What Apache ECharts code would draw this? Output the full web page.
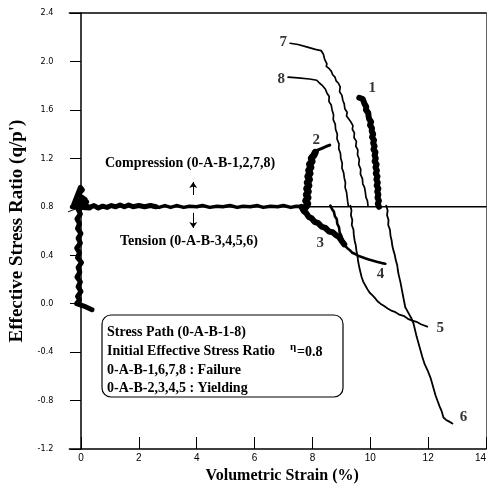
<!DOCTYPE html>
<html>
<head>
<meta charset="utf-8">
<script src="https://cdn.jsdelivr.net/npm/echarts@6/dist/echarts.min.js"></script>
<style>
html,body{margin:0;padding:0;background:#fff;}
#c{width:489px;height:495px;}
</style>
</head>
<body>
<div id="c"></div>
<script>
// ---- axis settings ----
const xMin = -0.4, xMax = 14;
const xTickValues = [0,2,4,6,8,10,12,14];
const yMin = -1.2, yMax = 2.4, yStep = 0.4;
const xTitle = 'Volumetric Strain (%)';
const yTitle = "Effective Stress Ratio (q/p')";

// ---- stress path 0-A ----
const leadIn = [[-0.66,0.74],[-0.2,0.78]];
const pathOA = [[0.38,-0.05],[0.1,-0.02],[-0.15,0.0],[-0.05,0.03],[-0.12,0.06],[0.0,0.1],[-0.1,0.14],[-0.02,0.18],[-0.14,0.22],[-0.04,0.26],[-0.1,0.3],[0.02,0.34],[-0.12,0.38],[-0.05,0.42],[-0.15,0.46],[-0.02,0.5],[-0.1,0.54],[0.0,0.58],[-0.12,0.62],[-0.05,0.66],[-0.14,0.7],[-0.02,0.74],[-0.1,0.78],[0.1,0.8],[-0.2,0.84],[0.15,0.86],[-0.1,0.9],[0.05,0.94],[-0.02,0.96],[-0.25,0.82],[0.3,0.79],[-0.3,0.8],[0.2,0.84],[0.0,0.8]];
// ---- path A-B (constant stress ratio 0.8) ----
const pathAB1 = [[0.0,0.80],[0.15,0.81],[0.3,0.795],[0.45,0.81],[0.6,0.79],[0.75,0.805],[0.9,0.795],[1.05,0.81],[1.2,0.80],[1.35,0.815],[1.5,0.80],[1.65,0.815],[1.8,0.80],[2.0,0.81],[2.2,0.80],[2.4,0.81],[2.6,0.80]];
const pathAB2 = [[2.5,0.80],[2.7,0.795],[2.9,0.81],[3.1,0.795],[3.3,0.81],[3.55,0.795],[3.75,0.805],[4.0,0.80],[4.2,0.81],[4.45,0.795],[4.7,0.805],[4.9,0.80],[5.15,0.81],[5.4,0.795],[5.6,0.805],[5.85,0.80],[6.1,0.81],[6.3,0.795],[6.55,0.805],[6.8,0.80],[7.0,0.81],[7.25,0.795],[7.45,0.805],[7.7,0.80]];
const refLine = [[0,0.8],[14,0.8]];

// ---- branches B-1 ... B-8 ----
const curve1 = [[9.62,1.70],[9.74,1.69],[9.72,1.675],[9.8,1.65],[9.86,1.625],[9.85,1.6],[9.93,1.575],[9.94,1.55],[9.96,1.525],[10.03,1.5],[9.99,1.475],[10.06,1.45],[10.05,1.425],[10.1,1.4],[10.06,1.375],[10.13,1.35],[10.1,1.325],[10.15,1.3],[10.11,1.275],[10.18,1.25],[10.15,1.225],[10.19,1.2],[10.15,1.175],[10.22,1.15],[10.18,1.125],[10.23,1.1],[10.19,1.075],[10.25,1.05],[10.21,1.025],[10.26,1.0],[10.22,0.975],[10.28,0.95],[10.24,0.925],[10.28,0.9],[10.25,0.875],[10.3,0.85],[10.26,0.825],[10.3,0.8]];
const curve2 = [[7.78,0.80],[7.84,0.825],[7.77,0.85],[7.85,0.875],[7.79,0.9],[7.86,0.925],[7.8,0.95],[7.88,0.975],[7.82,1.0],[7.9,1.025],[7.84,1.05],[7.92,1.075],[7.87,1.1],[7.95,1.125],[7.9,1.15],[7.99,1.175],[7.96,1.2],[8.05,1.225],[8.1,1.25]];
const curve2Tip = [[8.05,1.25],[8.2,1.27],[8.35,1.285],[8.5,1.3],[8.6,1.31]];
const curve3 = [[7.62,0.80],[7.7,0.765],[7.78,0.75],[7.88,0.715],[7.97,0.705],[8.08,0.675],[8.2,0.665],[8.32,0.635],[8.45,0.625],[8.58,0.595],[8.7,0.59],[8.82,0.565],[8.92,0.55],[9.02,0.515],[9.1,0.49]];
const curve4 = [[8.62,0.81],[8.68,0.78],[8.74,0.76],[8.78,0.72],[8.84,0.70],[8.86,0.66],[8.92,0.63],[8.94,0.59],[9.0,0.56],[9.05,0.52],[9.12,0.48],[9.2,0.46],[9.3,0.44],[9.38,0.42],[9.48,0.41],[9.58,0.395],[9.7,0.385],[9.82,0.375],[9.95,0.365],[10.1,0.355],[10.25,0.345],[10.4,0.335],[10.52,0.33]];
const curve5 = [[9.31,0.81],[9.35,0.77],[9.33,0.73],[9.38,0.69],[9.36,0.65],[9.42,0.61],[9.43,0.57],[9.46,0.52],[9.5,0.48],[9.52,0.44],[9.56,0.39],[9.58,0.35],[9.62,0.3],[9.66,0.26],[9.7,0.22],[9.76,0.18],[9.83,0.15],[9.9,0.12],[9.98,0.09],[10.07,0.07],[10.15,0.05],[10.25,0.02],[10.35,0.0],[10.48,-0.02],[10.6,-0.04],[10.75,-0.06],[10.87,-0.07],[11.0,-0.09],[11.15,-0.1],[11.3,-0.125],[11.45,-0.14],[11.6,-0.15],[11.75,-0.17],[11.97,-0.19]];
const curve6 = [[10.55,0.81],[10.6,0.77],[10.58,0.73],[10.63,0.69],[10.62,0.65],[10.68,0.61],[10.7,0.56],[10.74,0.52],[10.76,0.48],[10.8,0.44],[10.85,0.4],[10.88,0.36],[10.93,0.32],[10.95,0.28],[10.98,0.24],[11.04,0.18],[11.08,0.13],[11.12,0.08],[11.16,0.03],[11.21,-0.03],[11.28,-0.06],[11.35,-0.09],[11.42,-0.12],[11.49,-0.16],[11.55,-0.22],[11.6,-0.27],[11.66,-0.32],[11.73,-0.38],[11.8,-0.44],[11.88,-0.5],[11.98,-0.55],[12.08,-0.61],[12.14,-0.66],[12.2,-0.71],[12.26,-0.76],[12.32,-0.8],[12.4,-0.85],[12.47,-0.89],[12.53,-0.94],[12.62,-0.96],[12.7,-0.97],[12.84,-0.99]];
const curve7 = [[7.23,2.15],[7.5,2.14],[7.8,2.12],[8.1,2.1],[8.3,2.09],[8.38,2.06],[8.42,2.02],[8.5,1.98],[8.48,1.96],[8.58,1.94],[8.65,1.92],[8.7,1.89],[8.78,1.87],[8.82,1.84],[8.9,1.82],[8.96,1.79],[8.94,1.75],[9.02,1.72],[9.05,1.68],[9.1,1.65],[9.12,1.61],[9.2,1.58],[9.18,1.55],[9.27,1.52],[9.33,1.5],[9.4,1.47],[9.38,1.44],[9.45,1.41],[9.44,1.37],[9.52,1.34],[9.5,1.30],[9.57,1.27],[9.56,1.23],[9.62,1.19],[9.6,1.15],[9.67,1.11],[9.66,1.07],[9.73,1.03],[9.74,0.99],[9.8,0.96],[9.83,0.92],[9.85,0.88],[9.9,0.85],[9.92,0.81]];
const curve8 = [[7.16,1.87],[7.5,1.865],[7.9,1.855],[8.15,1.845],[8.25,1.82],[8.35,1.8],[8.45,1.77],[8.5,1.74],[8.58,1.71],[8.57,1.67],[8.65,1.64],[8.68,1.6],[8.73,1.56],[8.72,1.52],[8.79,1.48],[8.8,1.44],[8.86,1.40],[8.85,1.36],[8.92,1.32],[8.91,1.28],[8.97,1.24],[8.98,1.20],[9.03,1.16],[9.02,1.12],[9.08,1.08],[9.1,1.04],[9.14,1.00],[9.13,0.96],[9.18,0.92],[9.2,0.88],[9.22,0.84],[9.24,0.81]];

// ---- branch labels ----
const branchNames = ['1','2','3','4','5','6','7','8'];
const branchLabelX = [10.07,8.13,8.27,10.35,12.42,13.22,6.99,6.92];
const branchLabelY = [1.78,1.35,0.50,0.24,-0.20,-0.94,2.16,1.85];

// ---- arrows ----
const arrowUp = [[3.88,0.897],[3.88,1.005]];
const arrowDown = [[3.88,0.75],[3.88,0.625]];

const boxLines = ['Stress Path (0-A-B-1-8)','Initial Effective Stress Ratio','0-A-B-1,6,7,8 : Failure','0-A-B-2,3,4,5 : Yielding'];

const serif = "'Liberation Serif','Times New Roman',serif";
const sans = "'Liberation Sans',Arial,sans-serif";
const narrow = "'Liberation Sans Narrow','DejaVu Sans Condensed','Liberation Sans',sans-serif";

function pathSeries(data, w, clip){
  return {type:'line', data:data, showSymbol:false, symbol:'none', clip: clip!==false,
    lineStyle:{color:'#000', width:w, join:'round', cap:'round'}, silent:true, animation:false, z:3};
}

const chart = echarts.init(document.getElementById('c'), null, {renderer:'canvas'});
const labelData = branchNames.map((n,i)=>({value:[branchLabelX[i],branchLabelY[i]], name:n}));

const series = [
  pathSeries(refLine,1.4),
  pathSeries(leadIn,1,false),
  pathSeries(pathOA,5,false),
  pathSeries(pathAB1,5),
  pathSeries(pathAB2,3.5),
  pathSeries(curve1,6),
  pathSeries(curve2,7),
  pathSeries(curve2Tip,3),
  pathSeries(curve3,6),
  pathSeries(curve4,2.6),
  pathSeries(curve5,1.8),
  pathSeries(curve6,1.8),
  pathSeries(curve7,1.7),
  pathSeries(curve8,1.7),
  {type:'scatter', data:labelData, symbolSize:0, silent:true, animation:false,
   label:{show:true, position:'inside', formatter:p=>p.name, color:'#000',
     fontFamily:serif, fontWeight:'bold', fontSize:15}},
  {type:'line', data:[], silent:true, animation:false,
   markLine:{silent:true, animation:false, symbol:['none','arrow'], symbolSize:6,
     lineStyle:{color:'#000', width:1, type:'solid'}, label:{show:false},
     data:[[{coord:arrowUp[0]},{coord:arrowUp[1]}],[{coord:arrowDown[0]},{coord:arrowDown[1]}]]}}
];

const graphic = [
  {type:'text', left:105, top:156, style:{text:'Compression (0-A-B-1,2,7,8)', font:'bold 14px '+serif, fill:'#000'}},
  {type:'text', left:120, top:234, style:{text:'Tension (0-A-B-3,4,5,6)', font:'bold 14px '+serif, fill:'#000'}},
  {type:'rect', shape:{x:102,y:315,width:241,height:82,r:9}, style:{fill:'#fff', stroke:'#000', lineWidth:1.2}, z:10},
  {type:'text', x:107, y:325, style:{text:boxLines[0], font:'bold 14px '+serif, fill:'#000'}, z:11},
  {type:'text', x:107, y:344, style:{text:boxLines[1], font:'bold 14px '+serif, fill:'#000'}, z:11},
  {type:'text', x:107, y:363, style:{text:boxLines[2], font:'bold 14px '+serif, fill:'#000'}, z:11},
  {type:'text', x:107, y:381, style:{text:boxLines[3], font:'bold 14px '+serif, fill:'#000'}, z:11},
  {type:'text', x:290, y:342, style:{text:'η', font:'bold 11px '+serif, fill:'#000'}, z:11},
  {type:'text', x:297, y:345, style:{text:'=0.8', font:'bold 14px '+serif, fill:'#000'}, z:11}
];

chart.setOption({
  animation:false,
  backgroundColor:'#fff',
  grid:{left:69.4, right:3, top:13, bottom:46, containLabel:false, outerBoundsMode:'none'},
  xAxis:[{
    type:'value', min:xMin, max:xMax,
    name:xTitle, nameLocation:'middle', nameGap:16,
    nameTextStyle:{fontFamily:serif, fontWeight:'bold', fontSize:16, color:'#000', padding:[0,0,0,9]},
    axisLine:{onZero:false, lineStyle:{color:'#000', width:1.5}},
    axisTick:{show:true, inside:true, length:12, customValues:xTickValues, lineStyle:{color:'#000', width:1}},
    axisLabel:{color:'#000', fontFamily:sans, fontSize:10, margin:4, customValues:xTickValues, alignMaxLabel:'right'},
    splitLine:{show:false}
  },{
    type:'value', min:xMin, max:xMax, position:'top',
    axisLine:{show:true, onZero:false, lineStyle:{color:'#000', width:1.5}},
    axisTick:{show:false}, axisLabel:{show:false}, splitLine:{show:false}
  }],
  yAxis:[{
    type:'value', min:yMin, max:yMax, interval:yStep,
    name:yTitle, nameLocation:'middle', nameGap:36,
    nameTextStyle:{fontFamily:serif, fontWeight:'bold', fontSize:19, color:'#000'},
    axisLine:{onZero:true, lineStyle:{color:'#000', width:1.5}},
    axisTick:{show:true, inside:false, length:11, lineStyle:{color:'#000', width:1}},
    axisLabel:{color:'#000', fontFamily:narrow, fontSize:9, margin:16,
      formatter:v=>(Math.round(v*10)/10).toFixed(1)},
    splitLine:{show:false}
  },{
    type:'value', min:yMin, max:yMax, position:'right',
    axisLine:{show:true, onZero:false, lineStyle:{color:'#666', width:1}},
    axisTick:{show:false}, axisLabel:{show:false}, splitLine:{show:false}
  }],
  series:series,
  graphic:graphic
});
</script>
</body>
</html>
